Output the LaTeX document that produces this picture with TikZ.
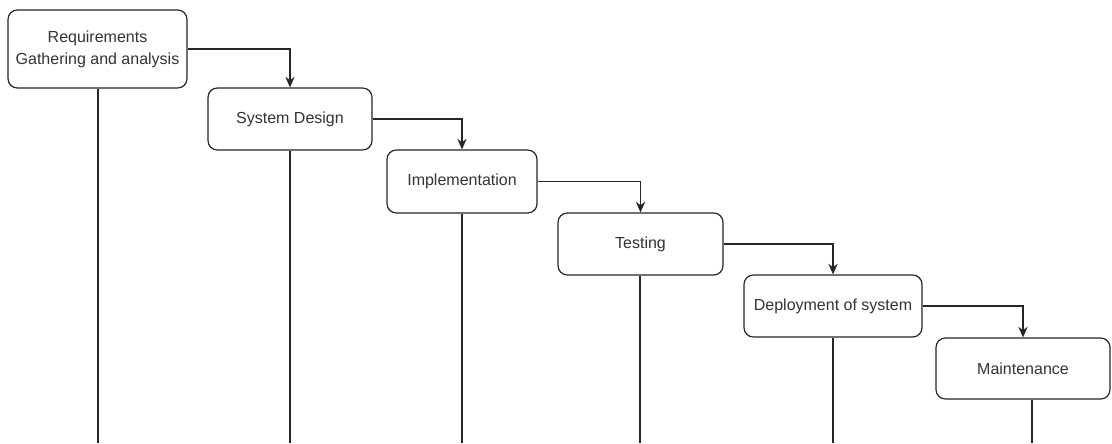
\documentclass[tikz,border=0pt]{standalone}
\usepackage{fontspec}
\setmainfont{Liberation Sans}
\usetikzlibrary{arrows.meta}
\begin{document}
\begin{tikzpicture}[x=0.75pt,y=-0.75pt,
  phase/.style={draw=black!85, line width=0.9pt, rounded corners=7pt, fill=white,
    align=center, font=\fontsize{12pt}{16.5pt}\selectfont, text=black!80,
    inner sep=0pt},
  flow/.style={draw=black!85, line width=0.9pt, -{Stealth[length=8pt,width=7pt]}},
  drop/.style={draw=black!85, line width=0.9pt}]
\useasboundingbox (0,0) rectangle (1112,443);
\node[phase, minimum width={179*0.75pt}, minimum height={78*0.75pt}] (n1) at (97.5,49) {Requirements\\Gathering and analysis};
\node[phase, minimum width={164*0.75pt}, minimum height={62*0.75pt}] (n2) at (290,119) {System Design};
\node[phase, minimum width={150*0.75pt}, minimum height={63*0.75pt}] (n3) at (462,181.5) {Implementation};
\node[phase, minimum width={165*0.75pt}, minimum height={62*0.75pt}] (n4) at (640.5,244) {Testing};
\node[phase, minimum width={178*0.75pt}, minimum height={62*0.75pt}] (n5) at (833,306) {Deployment of system};
\node[phase, minimum width={174*0.75pt}, minimum height={61*0.75pt}] (n6) at (1023,368.5) {Maintenance};
\coordinate (e1) at (98,443);
\coordinate (e2) at (290,443);
\coordinate (e3) at (462,443);
\coordinate (e4) at (640,443);
\coordinate (e5) at (833,443);
\coordinate (e6) at (1032,443);
\draw[flow] (n1.east) -| (n2.north);
\draw[flow] (n2.east) -| (n3.north);
\draw[flow] (n3.east) -| (n4.north);
\draw[flow] (n4.east) -| (n5.north);
\draw[flow] (n5.east) -| (n6.north);
\draw[drop] (e1 |- n1.south) -- (e1);
\draw[drop] (e2 |- n2.south) -- (e2);
\draw[drop] (e3 |- n3.south) -- (e3);
\draw[drop] (e4 |- n4.south) -- (e4);
\draw[drop] (e5 |- n5.south) -- (e5);
\draw[drop] (e6 |- n6.south) -- (e6);
\end{tikzpicture}
\end{document}
